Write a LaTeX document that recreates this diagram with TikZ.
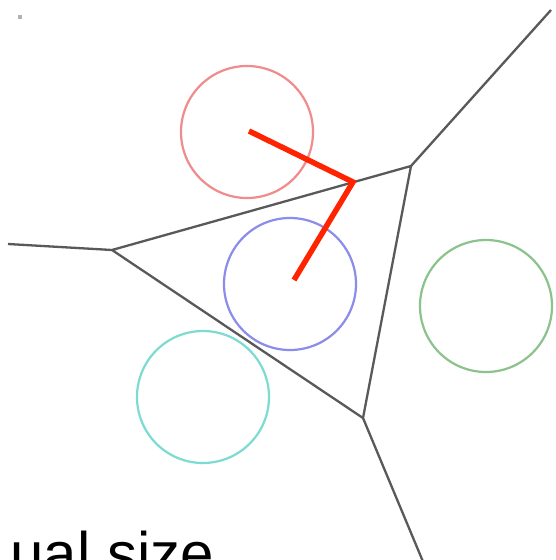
\documentclass[tikz,border=0pt]{standalone}
\usepackage{fontspec}
\setmainfont{Liberation Sans}
\begin{document}
\begin{tikzpicture}[x=1pt,y=-1pt,
  edge/.style={draw=black!65,line width=2.3pt,line join=round},
  ring/.style={line width=2.2pt},
  redline/.style={draw={rgb,255:red,255;green,35;blue,0},line width=5.5pt,line join=miter}]
\clip (0,0) rectangle (555,560);
\fill[white] (0,0) rectangle (555,560);
% tiny mark
\fill[black!30] (18,15) rectangle (22,19);
% circles
\draw[ring,draw={rgb,255:red,240;green,140;blue,140}] (247,132) circle (66);
\draw[ring,draw={rgb,255:red,140;green,140;blue,235}] (290,284) circle (66);
\draw[ring,draw={rgb,255:red,140;green,195;blue,140}] (486,306) circle (66);
\draw[ring,draw={rgb,255:red,125;green,220;blue,210}] (203,397) circle (66);
% Voronoi edges
\coordinate (A) at (112,250);
\coordinate (B) at (411,166);
\coordinate (C) at (363,418);
\coordinate (Ae) at (8,244);
\coordinate (Be) at (551,10);
\coordinate (Ce) at (424,564);
\draw[edge] (A) -- (B) -- (C) -- cycle;
\draw[edge] (A) -- (Ae);
\draw[edge] (B) -- (Be);
\draw[edge] (C) -- (Ce);
% red path
\coordinate (R1) at (249,131);
\coordinate (R2) at (353,182);
\coordinate (R3) at (294,280);
\draw[redline] (R1) -- (R2) -- (R3);
% text
\node[anchor=base east,inner sep=0pt,font=\fontsize{60}{60}\selectfont] (t) at (214,574) {ual size};
\end{tikzpicture}
\end{document}
